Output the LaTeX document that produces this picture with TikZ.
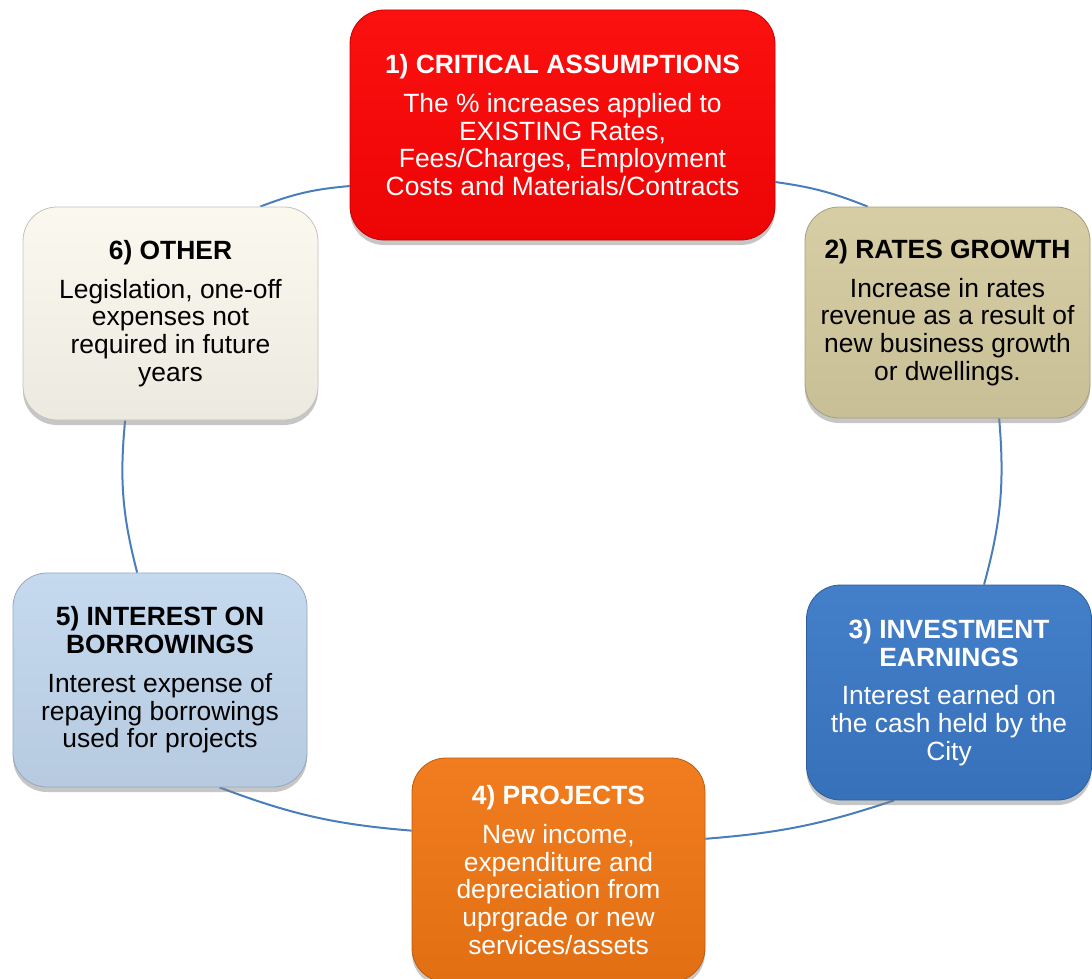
\documentclass[tikz,border=0pt]{standalone}
\usepackage{fontspec}
\setmainfont{Liberation Sans}
\usetikzlibrary{shadows,backgrounds}

\definecolor{critred}{RGB}{252,4,4}
\definecolor{ratestan}{RGB}{213,203,160}
\definecolor{investblue}{RGB}{58,120,198}
\definecolor{projorange}{RGB}{240,118,20}
\definecolor{borrowblue}{RGB}{194,215,238}
\definecolor{othercream}{RGB}{251,248,238}
\definecolor{cycleblue}{RGB}{74,126,187}

\tikzset{
  card/.style={rounded corners=17pt, align=center, inner sep=0pt,
    top color=#1!95!white, bottom color=#1!94!black, draw=#1!78!black, line width=0.4pt,
    font=\fontsize{13.2}{13.85}\selectfont,
    drop shadow={shadow xshift=0pt, shadow yshift=-2.5pt, opacity=0.45}},
  cycle/.style={draw=cycleblue, line width=1pt}
}

\begin{document}
\begin{tikzpicture}[x=0.5pt,y=-0.5pt]
\useasboundingbox (0,0) rectangle (1092,979);

\node[card=critred, text=white, minimum width=212.5pt, minimum height=115pt] (crit) at (562.5,125)
  {\textbf{1) CRITICAL ASSUMPTIONS}\\[5.6pt]
   The \% increases applied to\\EXISTING Rates,\\Fees/Charges, Employment\\Costs and Materials/Contracts};
\node[card=ratestan, minimum width=142.5pt, minimum height=105.5pt] (rates) at (947.5,312.5)
  {\textbf{2) RATES GROWTH}\\[5.6pt]
   Increase in rates\\revenue as a result of\\new business growth\\or dwellings.};
\node[card=investblue, text=white, minimum width=142.5pt, minimum height=107.5pt] (invest) at (949,692.5)
  {\textbf{3) INVESTMENT}\\\textbf{EARNINGS}\\[5.6pt]
   Interest earned on\\the cash held by the\\City};
\node[card=projorange, text=white, minimum width=146.5pt, minimum height=112pt] (proj) at (558.5,870)
  {\textbf{4) PROJECTS}\\[5.6pt]
   New income,\\expenditure and\\depreciation from\\uprgrade or new\\services/assets};
\node[card=borrowblue, minimum width=147pt, minimum height=107pt] (borrow) at (160,680)
  {\textbf{5) INTEREST ON}\\\textbf{BORROWINGS}\\[5.6pt]
   Interest expense of\\repaying borrowings\\used for projects};
\node[card=othercream, minimum width=147.5pt, minimum height=106.5pt] (other) at (170.5,313.5)
  {\textbf{6) OTHER}\\[5.6pt]
   Legislation, one-off\\expenses not\\required in future\\years};

\begin{scope}[on background layer]
\draw[cycle] (crit.-15.3) to[bend left=7] (rates.127.3);
\draw[cycle] (rates.-64) to[bend left=10] (invest.72.9);
\draw[cycle] (invest.-117.1) to[bend left=7] (proj.12.7);
\draw[cycle] (proj.165.8) to[bend left=8] (borrow.-61.9);
\draw[cycle] (borrow.102.1) to[bend left=10] (other.-113.1);
\draw[cycle] (other.50.6) to[bend left=8] (crit.-164.7);
\end{scope}
\end{tikzpicture}
\end{document}
